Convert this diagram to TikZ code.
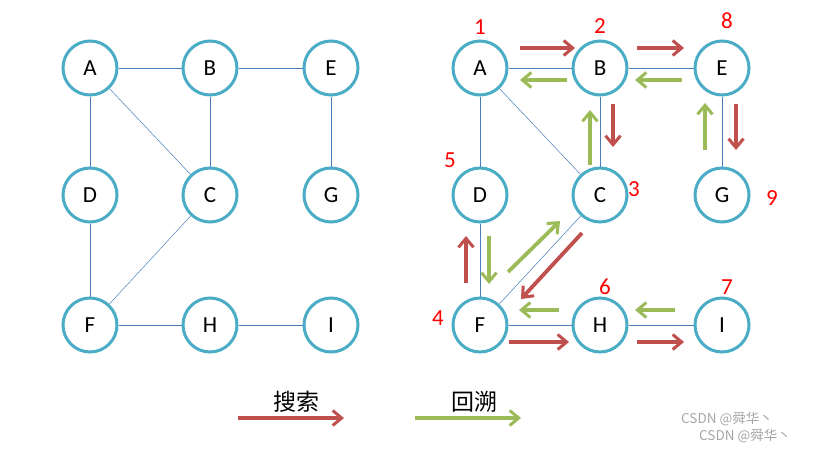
\documentclass[tikz,border=0pt]{standalone}
\usepackage{fontspec}
\setmainfont{Carlito}
\newfontfamily\cjk{Noto Sans CJK SC}
\usetikzlibrary{arrows.meta}
\definecolor{ringblue}{HTML}{4BACC6}
\definecolor{edgeblue}{HTML}{4A7EBB}
\definecolor{srchred}{HTML}{C0504D}
\definecolor{backgreen}{HTML}{9BBB59}
\begin{document}
\begin{tikzpicture}[x=1pt,y=-1pt,
	vtx/.style={circle,draw=ringblue,line width=3pt,minimum size=54pt,inner sep=0pt,fill=white,font=\fontsize{23}{23}\selectfont},
	edge/.style={edgeblue,line width=0.9pt},
	thinedge/.style={edgeblue,line width=0.5pt},
	srch/.style={srchred,line width=3.8pt,-{Straight Barb[length=9pt,width=15pt,line width=3pt]}},
	back/.style={backgreen,line width=3.8pt,-{Straight Barb[length=9pt,width=15pt,line width=3pt]}},
	order/.style={red,font=\fontsize{23}{23}\selectfont}]
	\useasboundingbox (0,0) rectangle (818,452);
	
	% left graph
	\node[vtx] (A) at (90,68) {A};
	\node[vtx] (B) at (210,68) {B};
	\node[vtx] (E) at (331,68) {E};
	\node[vtx] (D) at (90,195) {D};
	\node[vtx] (C) at (210,195) {C};
	\node[vtx] (G) at (331,195) {G};
	\node[vtx] (F) at (90,325) {F};
	\node[vtx] (H) at (210,325) {H};
	\node[vtx] (I) at (331,325) {I};
	
	\draw[edge] (A) -- (B);
	\draw[edge] (B) -- (E);
	\draw[edge] (A) -- (D);
	\draw[thinedge] (A) -- (C);
	\draw[edge] (B) -- (C);
	\draw[edge] (E) -- (G);
	\draw[edge] (D) -- (F);
	\draw[thinedge] (C) -- (F);
	\draw[edge] (F) -- (H);
	\draw[edge] (H) -- (I);
	
	% right graph
	\node[vtx] (rA) at (480,68) {A};
	\node[vtx] (rB) at (600,68) {B};
	\node[vtx] (rE) at (722,68) {E};
	\node[vtx] (rD) at (480,195) {D};
	\node[vtx] (rC) at (600,195) {C};
	\node[vtx] (rG) at (722,195) {G};
	\node[vtx] (rF) at (480,325) {F};
	\node[vtx] (rH) at (600,325) {H};
	\node[vtx] (rI) at (722,325) {I};
	
	\draw[edge] (rA) -- (rB);
	\draw[edge] (rB) -- (rE);
	\draw[edge] (rA) -- (rD);
	\draw[thinedge] (rA) -- (rC);
	\draw[edge] (rB) -- (rC);
	\draw[edge] (rE) -- (rG);
	\draw[edge] (rD) -- (rF);
	\draw[thinedge] (rC) -- (rF);
	\draw[edge] (rF) -- (rH);
	\draw[edge] (rH) -- (rI);
	
	% visiting order
	\node[order] (n1) at (480,27) {1};
	\node[order] (n2) at (600,26) {2};
	\node[order] (n3) at (634,189) {3};
	\node[order] (n4) at (438,318) {4};
	\node[order] (n5) at (450,160) {5};
	\node[order] (n6) at (605,287) {6};
	\node[order] (n7) at (727,287) {7};
	\node[order] (n8) at (727,21) {8};
	\node[order] (n9) at (772,198) {9};
	
	% search
	\draw[srch] (520,48) -- (575,48);
	\draw[srch] (637,48) -- (684,48);
	\draw[srch] (613,104) -- (613,147);
	\draw[srch] (736,104) -- (736,150);
	\draw[srch] (582,233) -- (521,299);
	\draw[srch] (466,283) -- (466,236);
	\draw[srch] (509,342) -- (569,342);
	\draw[srch] (637,342) -- (684,342);
	
	% backtrack
	\draw[back] (567,80) -- (520,80);
	\draw[back] (682,80) -- (635,80);
	\draw[back] (590,165) -- (590,110);
	\draw[back] (705,150) -- (705,103);
	\draw[back] (489,236) -- (489,284);
	\draw[back] (508,272) -- (560,221);
	\draw[back] (559,310) -- (519,310);
	\draw[back] (675,310) -- (635,310);
	
	% legend
	\coordinate (s1) at (238,418);
	\coordinate (s2) at (344,418);
	\coordinate (b1) at (415,418);
	\coordinate (b2) at (521,418);
	\draw[srch] (s1) -- (s2);
	\draw[back] (b1) -- (b2);
	\node[font=\cjk\fontsize{23}{23}\selectfont] (lsrch) at (296,402) {搜索};
	\node[font=\cjk\fontsize{23}{23}\selectfont] (lback) at (474,402) {回溯};
	
	\node[gray!70,font=\cjk\fontsize{13.5}{13.5}\selectfont] (wm1) at (727,419) {CSDN @舜华丶};
	\node[gray!70,font=\cjk\fontsize{13.5}{13.5}\selectfont] (wm2) at (745,436) {CSDN @舜华丶};
\end{tikzpicture}
\end{document}
